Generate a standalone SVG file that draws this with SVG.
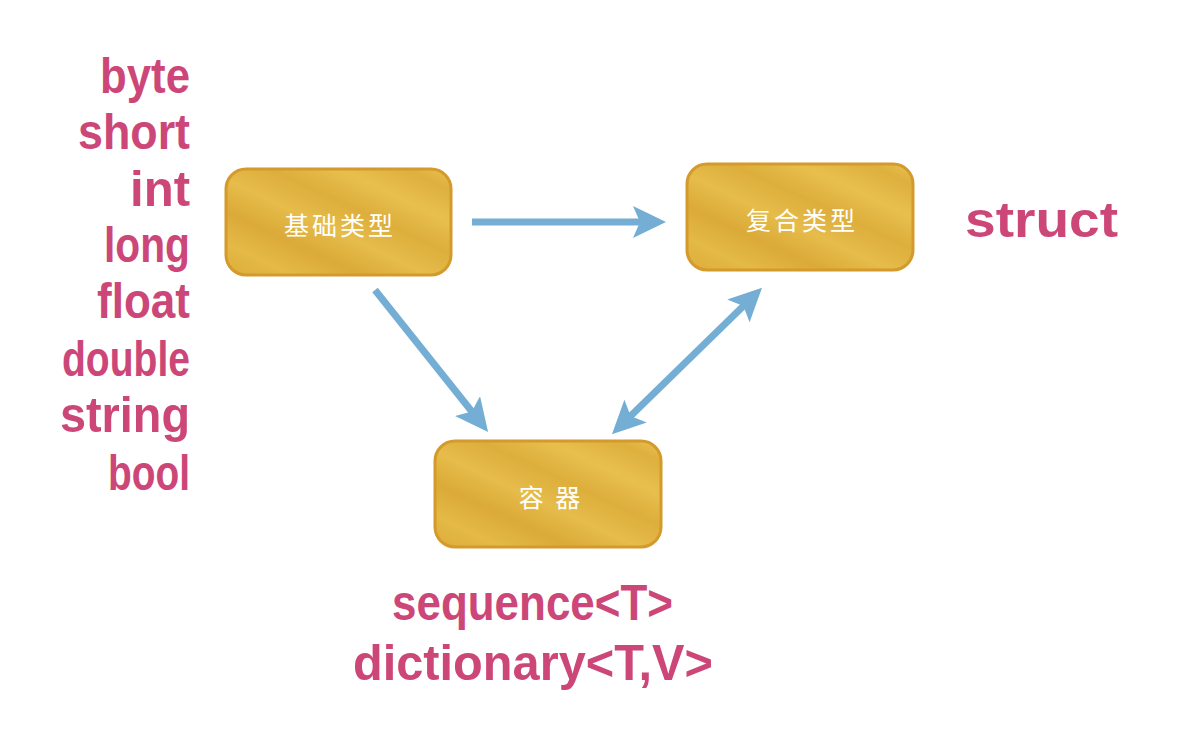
<svg xmlns="http://www.w3.org/2000/svg" width="1188" height="756" viewBox="0 0 1188 756">
<defs>
<linearGradient id="gold" x1="0" y1="1" x2="1" y2="0">
<stop offset="0" stop-color="#DDAC3A"/>
<stop offset="0.15" stop-color="#E4B945"/>
<stop offset="0.3" stop-color="#DBAA38"/>
<stop offset="0.45" stop-color="#E6BC4A"/>
<stop offset="0.6" stop-color="#DDAE3C"/>
<stop offset="0.75" stop-color="#E8BF4D"/>
<stop offset="0.9" stop-color="#DEB03E"/>
<stop offset="1" stop-color="#E9C251"/>
</linearGradient>
<marker id="ah" markerUnits="userSpaceOnUse" markerWidth="36" markerHeight="32" viewBox="0 0 36 32" refX="12" refY="16" orient="auto-start-reverse">
<path d="M0,0 L33,16 L0,32 L7,16 z" fill="#74AED4"/>
</marker>
</defs>
<style>
.box{fill:url(#gold);stroke:#D49A2B;stroke-width:3}
.cjk{font-family:"Noto Sans CJK SC",sans-serif;font-size:25px;font-weight:400;fill:#FFFFFF;text-anchor:middle;letter-spacing:3px}
.lbl{font-family:"Liberation Sans",sans-serif;font-weight:bold;fill:#CC4778;font-size:50px}
.conn{stroke:#74AED4;stroke-width:7;fill:none}
</style>
<rect width="1188" height="756" fill="#FFFFFF"/>
<g id="connectors">
<line class="conn" x1="472" y1="222" x2="645" y2="222" marker-end="url(#ah)"/>
<line class="conn" x1="375" y1="290" x2="475" y2="415.5" marker-end="url(#ah)"/>
<line class="conn" x1="627" y1="419.5" x2="747" y2="302.5" marker-start="url(#ah)" marker-end="url(#ah)"/>
</g>
<g id="node-basic">
<rect class="box" x="226" y="169" width="225" height="106" rx="20"/>
<text class="cjk" x="340" y="235">基础类型</text>
</g>
<g id="node-composite">
<rect class="box" x="687" y="164" width="226" height="106" rx="20"/>
<text class="cjk" x="802" y="230">复合类型</text>
</g>
<g id="node-container">
<rect class="box" x="435" y="441" width="226" height="106" rx="20"/>
<text class="cjk" x="551" y="507">容 器</text>
</g>
<g id="labels">
<text class="lbl" x="100" y="93" textLength="90" lengthAdjust="spacingAndGlyphs">byte</text>
<text class="lbl" x="78" y="149" textLength="112" lengthAdjust="spacingAndGlyphs">short</text>
<text class="lbl" x="130" y="206" textLength="60" lengthAdjust="spacingAndGlyphs">int</text>
<text class="lbl" x="104" y="262" textLength="86" lengthAdjust="spacingAndGlyphs">long</text>
<text class="lbl" x="97" y="318" textLength="93" lengthAdjust="spacingAndGlyphs">float</text>
<text class="lbl" x="62" y="376" textLength="128" lengthAdjust="spacingAndGlyphs">double</text>
<text class="lbl" x="60" y="432" textLength="130" lengthAdjust="spacingAndGlyphs">string</text>
<text class="lbl" x="108" y="490" textLength="82" lengthAdjust="spacingAndGlyphs">bool</text>
<text class="lbl" x="965" y="237" textLength="153" lengthAdjust="spacingAndGlyphs">struct</text>
<text class="lbl" x="392" y="620" textLength="281" lengthAdjust="spacingAndGlyphs">sequence&lt;T&gt;</text>
<text class="lbl" x="353" y="680" textLength="360" lengthAdjust="spacingAndGlyphs">dictionary&lt;T,V&gt;</text>
</g>
</svg>
